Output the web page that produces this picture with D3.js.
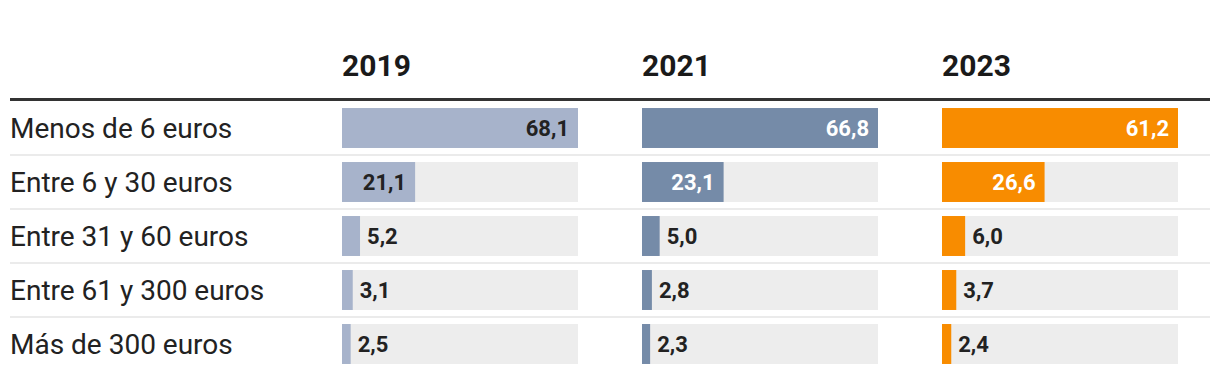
<!DOCTYPE html>
<html><head><meta charset="utf-8">
<script src="https://cdn.jsdelivr.net/npm/d3@7"></script>
<style>body{margin:0;background:#fff;}svg{display:block;font-family:Roboto,sans-serif;}</style>
</head><body>
<svg id="c" width="1220" height="380"></svg>
<script>
const categories = ["Menos de 6 euros","Entre 6 y 30 euros","Entre 31 y 60 euros","Entre 61 y 300 euros","Más de 300 euros"];
const years = ["2019","2021","2023"];
const v2019 = [68.1,21.1,5.2,3.1,2.5];
const v2021 = [66.8,23.1,5.0,2.8,2.3];
const v2023 = [61.2,26.6,6.0,3.7,2.4];
const colors = ["#a7b3cb","#758ba8","#f88c00"];
const insideText = ["#222","#fff","#fff"];

const series = [v2019, v2021, v2023];
const svg = d3.select("#c");
const colX = d3.scaleOrdinal().domain(years).range([342, 642, 942]);
const barW = 236;
const y = d3.scaleBand().domain(categories).range([101, 371]).paddingInner(0.26).paddingOuter(0.13);
const fmt = v => d3.format(".1f")(v).replace(".", ",");

// header
svg.selectAll("text.year").data(years).join("text")
  .attr("x", d => colX(d)).attr("y", 76)
  .attr("font-size", 30).attr("font-weight", 700).attr("fill", "#1a1a1a")
  .text(d => d);
svg.append("line").attr("x1", 10).attr("x2", 1210).attr("y1", 99.5).attr("y2", 99.5)
  .attr("stroke", "#333").attr("stroke-width", 3);

// separators
const step = y.step();
categories.slice(1).forEach((c) => {
  const yy = y(c) - (step - y.bandwidth()) / 2;
  svg.append("line").attr("x1", 10).attr("x2", 1210).attr("y1", yy).attr("y2", yy)
    .attr("stroke", "#ebebeb").attr("stroke-width", 2);
});

// row labels
svg.selectAll("text.cat").data(categories).join("text")
  .attr("x", 10).attr("y", d => y(d) + y.bandwidth() / 2).attr("dy", "0.36em")
  .attr("font-size", 28).attr("fill", "#222").text(d => d);

years.forEach((yr, j) => {
  const vals = series[j];
  const x = d3.scaleLinear().domain([0, d3.max(vals)]).range([0, barW]);
  const g = svg.append("g").attr("transform", `translate(${colX(yr)},0)`);
  g.selectAll("rect.bg").data(categories).join("rect")
    .attr("x", 0).attr("y", d => y(d)).attr("width", barW).attr("height", y.bandwidth())
    .attr("fill", "#ededed");
  g.selectAll("rect.bar").data(vals).join("rect")
    .attr("x", 0).attr("y", (d, i) => y(categories[i])).attr("width", d => x(d)).attr("height", y.bandwidth())
    .attr("fill", colors[j]);
  g.selectAll("text.val").data(vals).join("text")
    .attr("x", d => x(d) > 50 ? x(d) - 9 : x(d) + 7)
    .attr("text-anchor", d => x(d) > 50 ? "end" : "start")
    .attr("y", (d, i) => y(categories[i]) + y.bandwidth() / 2).attr("dy", "0.36em")
    .attr("font-size", 22).attr("font-weight", 700)
    .attr("fill", d => x(d) > 50 ? insideText[j] : "#222")
    .text(d => fmt(d));
});
</script>
</body></html>
